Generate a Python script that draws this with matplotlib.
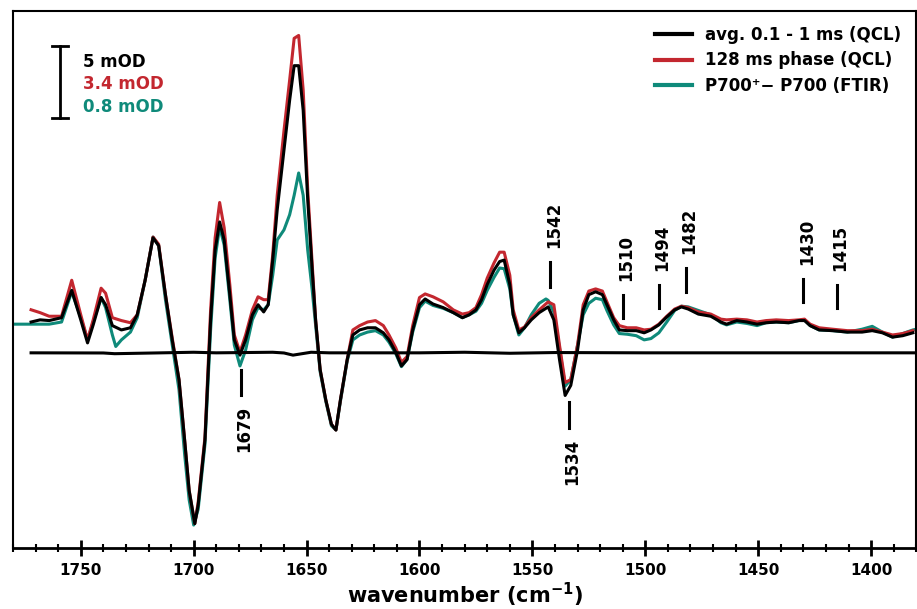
import matplotlib
matplotlib.use("Agg")
import matplotlib.pyplot as plt
from matplotlib.ticker import MultipleLocator

# wavenumber grid (cm-1) shared by the QCL traces
wn = [1772, 1768, 1764, 1758.5, 1754, 1750, 1747, 1744.5, 1741, 1739, 1736, 1732, 1728, 1725,
      1721.5, 1718, 1715.5, 1712.5, 1709.5, 1706.5, 1704, 1702, 1699.5, 1698, 1695, 1692.5,
      1690.5, 1688.5, 1686.5, 1684, 1682, 1679.5, 1677, 1674, 1671.5, 1669, 1667, 1665, 1663,
      1660, 1657.5, 1655.5, 1653.5, 1651.5, 1649.5, 1647.5, 1646, 1644, 1641.5, 1639, 1637,
      1635, 1632, 1629.5, 1626.5, 1623, 1619.5, 1616, 1613.5, 1610.5, 1608, 1605.5, 1603, 1600,
      1597.5, 1594, 1589.5, 1585, 1581, 1578, 1575, 1572.5, 1570, 1567, 1564.5, 1562.5, 1560,
      1558.5, 1556, 1553.5, 1550.5, 1547, 1543, 1540.5, 1538, 1535.5, 1533, 1530, 1527.5, 1525,
      1522, 1519, 1517, 1514, 1511.5, 1508, 1504, 1500.5, 1497.5, 1494, 1490.5, 1487, 1484,
      1481, 1476.5, 1471, 1466.5, 1464, 1459.5, 1455, 1450.5, 1446.5, 1442, 1436.5, 1432,
      1429.5, 1427, 1423, 1417, 1410.5, 1404, 1399.5, 1395, 1390.5, 1386, 1381.5]

# avg. 0.1 - 1 ms (QCL), scaled to 5 mOD bar
avg_qcl = [0.2, 0.35, 0.3, 0.5, 2.4, 0.35, -1.25, 0.0, 1.9, 1.4, -0.05, -0.35, -0.2, 0.7,
           3.1, 6.05, 5.5, 2.1, -1.04, -3.8, -8.0, -11.5, -13.8, -12.5, -8.0, 0.35,
           5.2, 7.15, 5.9, 2.1, -1.04, -2.1, -1.04, 0.7, 1.4, 0.9, 1.4, 4.5, 8.0,
           12.15, 15.6, 18.0, 18.0, 14.9, 8.7, 3.8, 0.35, -3.1, -5.2, -6.9, -7.3,
           -5.2, -2.4, -0.7, -0.35, -0.2, -0.2, -0.55, -1.04, -1.9, -2.85, -2.4, -0.35, 1.4,
           1.8, 1.45, 1.2, 0.85, 0.5, 0.7, 1.04, 1.75, 2.8, 3.8, 4.4, 4.5, 2.8,
           0.7, -0.55, -0.2, 0.35, 0.85, 1.25, 0.35, -2.4, -4.9, -4.2, -1.75, 1.04, 2.1,
           2.3, 2.1, 1.4, 0.35, -0.35, -0.4, -0.4, -0.55, -0.35, 0.0, 0.55, 1.04, 1.25,
           1.1, 0.75, 0.6, 0.2, 0.05, 0.3, 0.2, 0.05, 0.15, 0.2, 0.15, 0.3,
           0.3, -0.05, -0.35, -0.4, -0.5, -0.5, -0.4, -0.55, -0.85, -0.75, -0.55]

# 128 ms phase (QCL), scaled to 3.4 mOD bar
phase_128 = [1.05, 0.85, 0.6, 0.6, 3.1, 0.7, -1.04, 0.35, 2.55, 2.2, 0.5, 0.3, 0.15, 0.7,
             3.1, 6.1, 5.6, 2.1, -0.9, -3.8, -8.0, -11.5, -13.8, -12.3, -7.8, 1.04,
             6.05, 8.5, 6.75, 2.8, -0.7, -1.9, -0.7, 1.04, 1.95, 1.75, 1.75, 4.85, 9.0,
             13.5, 17.0, 19.9, 20.1, 16.3, 9.4, 4.2, 0.35, -3.1, -5.2, -6.9, -7.3,
             -5.2, -2.4, -0.35, -0.05, 0.2, 0.3, -0.05, -0.7, -1.6, -2.6, -2.2, -0.05, 1.9,
             2.15, 1.95, 1.6, 1.04, 0.75, 0.85, 1.2, 2.1, 3.25, 4.3, 5.05, 5.05, 3.45,
             1.04, -0.35, -0.15, 0.5, 1.04, 1.6, 1.4, -1.4, -4.0, -3.8, -1.4, 1.4, 2.35,
             2.5, 2.35, 1.6, 0.5, -0.05, -0.2, -0.2, -0.35, -0.3, 0.05, 0.6, 1.1, 1.3,
             1.2, 0.9, 0.75, 0.4, 0.35, 0.4, 0.35, 0.2, 0.3, 0.35, 0.3, 0.35,
             0.4, 0.05, -0.2, -0.3, -0.4, -0.4, -0.3, -0.5, -0.7, -0.6, -0.4]

# P700+ - P700 (FTIR), scaled to 0.8 mOD bar
wn_ftir = [1780, 1776] + wn[:11] + [1734.5] + wn[11:22] + [1700] + wn[23:82] + [1544] + wn[82:] + [1380]
ftir = [0.05, 0.05,
        0.05, 0.05, 0.05, 0.2, 2.3, 0.5, -1.04, 0.2, 1.9, 1.2, -0.7, -1.5,
        -1.04, -0.5, 0.5, 3.1, 6.1, 5.5, 1.75, -1.4, -4.5, -9.0, -12.15, -13.9,
        -12.8, -8.3, -0.35, 4.65, 6.8, 5.55, 1.75, -1.4, -2.85, -1.75, 0.35, 1.2, 1.04,
        1.4, 3.45, 5.9, 6.6, 7.65, 9.0, 10.55, 9.0, 5.2, 2.4, 0.0, -3.25, -5.3, -7.0,
        -7.3, -5.3, -2.5, -1.04, -0.7, -0.5, -0.4, -0.7, -1.2, -2.0, -2.9, -2.4, -0.5,
        1.2, 1.65, 1.35, 1.15, 0.85, 0.5, 0.7, 0.95, 1.5, 2.4, 3.3, 3.95, 3.9, 2.5,
        0.7, -0.7, -0.2, 0.7, 1.5, 1.8, 1.7, 0.9, -1.6, -4.25, -3.8, -1.4, 0.7, 1.5,
        1.85, 1.75, 1.0, 0.0, -0.6, -0.65, -0.75, -1.04, -0.95, -0.55, 0.2, 1.0, 1.3,
        1.25, 1.0, 0.7, 0.15, 0.0, 0.2, 0.1, -0.05, 0.15, 0.2, 0.15, 0.3,
        0.35, -0.05, -0.35, -0.4, -0.5, -0.3, -0.1, -0.5, -0.85, -0.6, -0.35, -0.3]

# flat reference trace below the spectra
wn_base = [1772, 1740, 1735, 1700, 1690, 1665, 1660, 1656, 1652, 1648, 1640, 1600, 1580,
           1560, 1540, 1500, 1450, 1381]
base = [-1.94, -1.95, -2.0, -1.9, -1.94, -1.9, -1.95, -2.1, -2.0, -1.9, -1.94, -1.94, -1.9,
        -1.97, -1.92, -1.94, -1.94, -1.94]

# band markers
marks = [1679, 1542, 1534, 1510, 1494, 1482, 1430, 1415]
mark_lo = [-4.85, 2.65, -7.15, 0.5, 1.2, 2.3, 1.6, 1.2]
mark_hi = [-3.1, 4.4, -5.35, 2.1, 2.8, 3.95, 3.2, 2.8]
mark_below = [True, False, True, False, False, False, False, False]

red = '#c3272f'
teal = '#0f8a7a'

fig = plt.figure(figsize=(9.17, 6.09), dpi=100)
ax = fig.add_axes([0.0142, 0.1, 0.985, 0.882])

ax.plot(wn_ftir, ftir, color=teal, lw=2.2, label='P700⁺− P700 (FTIR)', zorder=2)
ax.plot(wn, phase_128, color=red, lw=2.2, label='128 ms phase (QCL)', zorder=3)
ax.plot(wn, avg_qcl, color='black', lw=2.2, label='avg. 0.1 - 1 ms (QCL)', zorder=4)
ax.plot(wn_base, base, color='black', lw=2.2, zorder=4)

for w, lo, hi, below in zip(marks, mark_lo, mark_hi, mark_below):
    ax.plot([w, w], [lo, hi], color='black', lw=2.2)
    if below:
        ax.text(w - 1.5, lo - 0.75, str(w), rotation=90, ha='center', va='top',
                fontsize=12, fontweight='bold')
    else:
        ax.text(w - 1.5, hi + 0.95, str(w), rotation=90, ha='center', va='bottom',
                fontsize=12, fontweight='bold')

# scale bar
ax.plot([1759.3, 1759.3], [14.4, 19.4], color='black', lw=2)
ax.plot([1762.8, 1755.7], [19.4, 19.4], color='black', lw=2)
ax.plot([1762.8, 1755.7], [14.4, 14.4], color='black', lw=2)
ax.text(1749.1, 18.26, '5 mOD', color='black', fontsize=12, fontweight='bold', va='center')
ax.text(1749.1, 16.74, '3.4 mOD', color=red, fontsize=12, fontweight='bold', va='center')
ax.text(1749.1, 15.14, '0.8 mOD', color=teal, fontsize=12, fontweight='bold', va='center')

ax.set_xlim(1780, 1380)
ax.set_ylim(-15.5, 21.8)
ax.set_yticks([])
ax.xaxis.set_major_locator(MultipleLocator(50))
ax.xaxis.set_minor_locator(MultipleLocator(10))
ax.tick_params(axis='x', which='major', direction='inout', length=12, width=2,
               labelsize=11, pad=5)
ax.tick_params(axis='x', which='minor', direction='inout', length=6, width=1.5)
for lab in ax.get_xticklabels():
    lab.set_fontweight('bold')
for side in ['left', 'top', 'right']:
    ax.spines[side].set_linewidth(1.5)
ax.spines['bottom'].set_linewidth(2)

ax.set_xlabel('wavenumber (cm$^{\\mathbf{-1}}$)', fontsize=15, fontweight='bold', labelpad=2)

handles, labels = ax.get_legend_handles_labels()
leg = ax.legend(handles[::-1], labels[::-1], loc='upper right', frameon=False,
                prop={'size': 12, 'weight': 'bold'}, handlelength=2.2, labelspacing=0.45)
for line in leg.get_lines():
    line.set_linewidth(3)

fig.savefig('out.png', dpi=100)
